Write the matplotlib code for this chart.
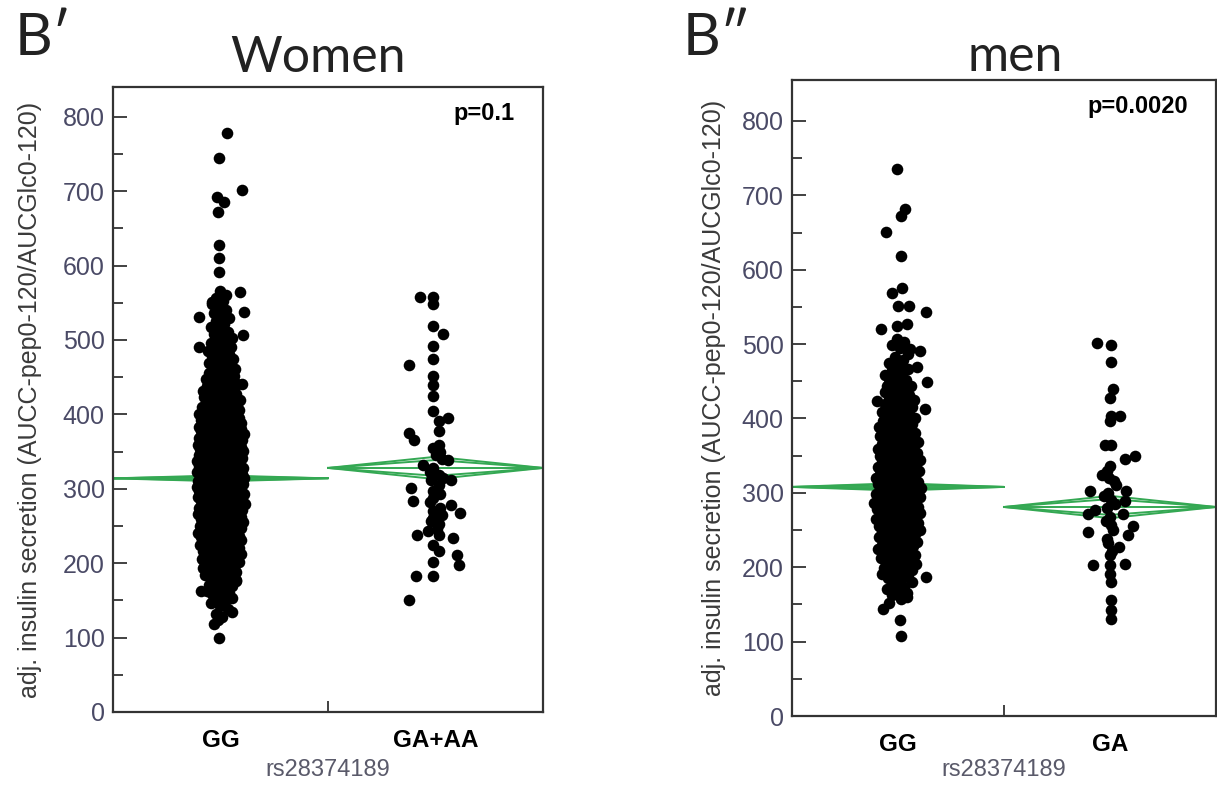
import numpy as np
import matplotlib.pyplot as plt

plt.rcParams['font.family'] = ['Liberation Sans', 'DejaVu Sans']

# --- women, GG: dense column + readable stragglers ---
women_gg_core = [
    118, 128, 132, 139, 143, 146, 149,
    151, 153, 156, 158, 160, 162, 163, 165, 167, 169,
    170, 171, 173, 174, 176, 177, 179, 180, 182, 184, 185, 186, 188, 189,
    190, 191, 191, 193, 194, 194, 195, 197, 198, 199, 200, 201, 202, 202, 204, 205, 206, 207, 208, 209,
    210, 211, 211, 212, 213, 214, 215, 215, 216, 217, 218, 219, 220, 221, 221, 222, 223, 224, 225, 226,
    227, 227, 228, 229,
    230, 231, 231, 232, 233, 234, 235, 235, 236, 237, 238, 239, 239, 240, 241, 242, 243, 243, 244, 245,
    246, 247, 247, 248, 249, 249,
    250, 250, 251, 252, 253, 253, 254, 255, 256, 256, 257, 258, 259, 259, 260, 261, 262, 262, 263, 264,
    265, 265, 266, 267, 268, 268, 269, 269,
    270, 270, 271, 272, 272, 273, 274, 274, 275, 276, 277, 277, 278, 279, 279, 280, 281, 281, 282, 283,
    284, 284, 285, 286, 286, 287, 288, 288, 289, 289,
    290, 290, 291, 291, 292, 293, 293, 294, 295, 295, 296, 297, 297, 298, 299, 299, 300, 300, 301, 302,
    302, 303, 304, 304, 305, 306, 306, 307, 308, 308, 309, 309,
    310, 310, 311, 312, 312, 313, 314, 314, 315, 316, 316, 317, 318, 318, 319, 319, 320, 321, 321, 322,
    323, 323, 324, 325, 325, 326, 327, 327, 328, 328, 329, 329,
    330, 331, 331, 332, 333, 333, 334, 335, 335, 336, 337, 337, 338, 339, 339, 340, 341, 341, 342, 343,
    343, 344, 345, 345, 346, 347, 347, 348, 349, 349,
    350, 351, 351, 352, 353, 353, 354, 355, 355, 356, 357, 357, 358, 359, 359, 360, 361, 361, 362, 363,
    363, 364, 365, 365, 366, 367, 367, 368, 369, 369,
    370, 371, 371, 372, 373, 374, 374, 375, 376, 377, 377, 378, 379, 380, 380, 381, 382, 383, 383, 384,
    385, 386, 386, 387, 388, 388, 389, 389,
    390, 391, 392, 393, 393, 394, 395, 396, 397, 398, 399, 400, 400, 401, 402, 403, 404, 405, 405, 406,
    407, 408, 409, 409,
    410, 411, 412, 413, 414, 415, 416, 418, 419, 420, 421, 422, 423, 424, 425, 426, 427, 428, 428, 429,
    430, 431, 433, 434, 435, 436, 438, 439, 440, 441, 443, 444, 445, 446, 448, 449,
    451, 452, 454, 456, 457, 459, 461, 462, 464, 466, 467, 469,
    471, 473, 475, 477, 479, 481, 483, 485, 487, 489,
    491, 493, 496, 498, 501, 503, 506, 508,
    511, 515, 518, 522, 525, 529,
    532, 536, 540, 544, 548,
    552, 556, 561, 566,
]
women_gg_out = [778, 744, 701, 692, 685, 672, 627, 610, 591, 565, 551, 538, 531, 506, 490, 441,
                178, 163, 134, 123, 99]
women_gg_out_dx = [0.03, -0.005, 0.10, -0.015, 0.015, -0.01, -0.005, -0.005, -0.005, 0.09, -0.04,
                   0.11, -0.10, 0.105, -0.10, 0.10, 0.07, -0.09, 0.055, -0.01, -0.005]

# --- women, GA+AA ---
women_ga = [558, 558, 548, 519, 508, 492, 475, 466, 451, 439, 425, 405, 395, 391, 377, 375, 365,
            359, 355, 350, 345, 340, 338, 332, 328, 322, 318, 315, 312, 312, 305, 301, 297, 293,
            288, 284, 282, 278, 274, 270, 268, 265, 261, 257, 252, 246, 243, 238, 238, 234, 225,
            217, 211, 201, 198, 183, 183, 151]
women_ga_dx = [-0.07, -0.01, -0.014, -0.01, 0.033, -0.01, -0.01, -0.125, -0.01, -0.01, -0.01, -0.01,
               0.06, 0.014, 0.014, -0.125, -0.10, 0.014, -0.01, 0.023, 0.0, 0.028, 0.06, -0.056,
               -0.01, -0.028, 0.014, 0.037, 0.07, -0.023, 0.014, -0.116, -0.01, 0.019, -0.01, -0.107,
               -0.028, 0.07, 0.023, -0.01, 0.116, 0.028, -0.01, -0.023, 0.014, 0.005, -0.033, -0.084,
               0.014, 0.079, -0.01, 0.014, 0.10, -0.01, 0.107, -0.093, -0.01, -0.125]

# --- men, GG ---
men_gg_core = [
    152, 157, 163, 166, 169,
    171, 174, 177, 180, 182, 185, 187, 189,
    191, 192, 194, 196, 198, 199, 201, 203, 204, 206, 208, 209,
    210, 212, 213, 215, 216, 218, 219, 221, 222, 224, 225, 227, 228, 229,
    230, 232, 233, 234, 236, 237, 239, 240, 241, 243, 244, 245, 246, 248, 249, 249,
    250, 251, 252, 254, 255, 256, 257, 258, 259, 261, 262, 263, 264, 265, 266, 267, 268, 269,
    270, 271, 271, 273, 274, 275, 276, 276, 278, 279, 280, 281, 282, 283, 283, 285, 286, 287, 288, 289,
    290, 291, 292, 292, 294, 295, 296, 297, 297, 299, 300, 301, 302, 302, 304, 305, 306, 307, 308, 309,
    310, 311, 312, 313, 314, 315, 316, 317, 318, 319, 320, 321, 322, 323, 325, 326, 327, 328, 329,
    330, 331, 332, 334, 335, 336, 337, 338, 339, 341, 342, 343, 344, 345, 346, 347, 348, 349,
    350, 352, 353, 354, 356, 357, 358, 359, 361, 362, 363, 364, 366, 367, 368, 369,
    370, 372, 373, 375, 376, 378, 379, 381, 382, 384, 385, 386, 388, 389,
    391, 392, 394, 396, 397, 399, 401, 402, 404, 406, 407, 409,
    411, 413, 415, 417, 419, 421, 423, 425, 427, 429,
    431, 434, 436, 439, 441, 444, 446, 448,
    452, 455, 458, 461, 464, 467,
    471, 475, 479, 483, 487,
    495, 499, 503, 507,
]
men_gg_out = [735, 681, 672, 651, 619, 576, 569, 551, 551, 543, 527, 524, 520, 493, 491, 469, 469,
              449, 443, 423, 413, 187, 160, 144, 129, 107]
men_gg_out_dx = [-0.005, 0.035, 0.015, -0.055, 0.015, 0.02, -0.03, 0.0, 0.05, 0.13, 0.04, -0.005,
                 -0.08, 0.055, 0.105, -0.03, 0.09, 0.135, -0.05, -0.10, 0.125, 0.13, 0.04, -0.07,
                 0.01, 0.015]

# --- men, GA ---
men_ga = [501, 499, 476, 440, 428, 404, 404, 397, 365, 364, 349, 345, 336, 330, 324, 320, 316, 311,
          303, 303, 300, 296, 291, 289, 285, 280, 277, 271, 271, 267, 262, 257, 256, 250, 247, 243,
          238, 233, 227, 222, 217, 204, 203, 203, 191, 180, 156, 143, 131]
men_ga_dx = [-0.06, 0.005, 0.005, 0.015, 0.0, 0.045, 0.005, 0.0, 0.005, -0.025, 0.12, 0.07, 0.0,
             -0.015, -0.04, -0.005, 0.02, 0.03, -0.095, 0.075, -0.01, -0.03, 0.005, 0.07, 0.025,
             -0.015, -0.07, -0.105, 0.06, 0.0, -0.02, 0.005, 0.11, 0.015, -0.105, 0.085, -0.015,
             -0.01, 0.04, 0.01, 0.0, 0.07, -0.08, 0.0, 0.0, 0.005, 0.005, 0.005, 0.005]

# group means and 95% CI half-widths (means diamonds)
women_means = [314, 328]
women_ci = [4, 15]
men_means = [308, 281]
men_ci = [5, 15]

women_cats = ['GG', 'GA+AA']
men_cats = ['GG', 'GA']
ylab = 'adj. insulin secretion (AUCC-pep0-120/AUCGlc0-120)'

green = '#34a853'
axis_col = '#333333'


def spread(vals, half):
    # density-scaled jitter: wide where points pile up, narrow in the tails
    v = np.asarray(vals, float)
    near = np.array([(np.abs(v - y) <= 15).sum() for y in v])
    w = half * np.sqrt(near / near.max())
    u = (np.arange(len(v)) * 0.6180339887) % 1.0 * 2 - 1
    return w * u


def draw_panel(ax, groups, means, cis, cats, ymax, ptext, ylab_x, xlab_y):
    for i, (core, out, out_dx) in enumerate(groups):
        if core:
            ax.scatter(i + spread(core, 0.115), core, s=70, c='black', lw=0, zorder=3)
        ax.scatter(i + np.array(out_dx), out, s=70, c='black', lw=0, zorder=3)

    for i, (m, c) in enumerate(zip(means, cis)):
        for h in (c, c / np.sqrt(2)):
            ax.plot([i - 0.5, i, i + 0.5, i, i - 0.5], [m, m + h, m, m - h, m],
                    color=green, lw=1.4, zorder=2, clip_on=False)
        ax.plot([i - 0.5, i + 0.5], [m, m], color=green, lw=1.4, zorder=2)

    ax.set_xlim(-0.5, 1.5)
    ax.set_ylim(0, ymax)
    ax.set_yticks(np.arange(0, 801, 100))
    ax.set_yticks(np.arange(50, 800, 100), minor=True)
    ax.tick_params(axis='y', which='major', direction='in', length=10, width=1.3,
                   color=axis_col, labelcolor='#4a4a66', labelsize=18, pad=6)
    ax.tick_params(axis='y', which='minor', direction='in', length=7, width=1.3, color=axis_col)

    ax.set_xticks([0, 1])
    ax.set_xticklabels(cats, fontweight='bold', fontsize=17.5)
    ax.set_xticks([0.5], minor=True)
    ax.tick_params(axis='x', which='major', length=0, pad=12)
    ax.tick_params(axis='x', which='minor', direction='in', length=8, width=1.3, color=axis_col)

    for sp in ax.spines.values():
        sp.set_color(axis_col)
        sp.set_linewidth(1.6)

    ax.set_ylabel(ylab, fontsize=18, color='#3a3a3a')
    ax.yaxis.set_label_coords(ylab_x, 0.5)
    ax.set_xlabel('rs28374189', fontsize=17, color='#5a5a6a', va='center')
    ax.xaxis.set_label_coords(0.5, xlab_y)

    ax.text(0.935, 0.958, ptext, transform=ax.transAxes, ha='right', va='center',
            fontsize=17, fontweight='bold')


fig = plt.figure(figsize=(12.17, 7.87), dpi=100)
ax1 = fig.add_axes([0.0929, 0.0953, 0.3533, 0.7942])
ax2 = fig.add_axes([0.6508, 0.0902, 0.3484, 0.8081])

draw_panel(ax1,
           [(women_gg_core, women_gg_out, women_gg_out_dx), ([], women_ga, women_ga_dx)],
           women_means, women_ci, women_cats, 840, 'p=0.1', -0.165, -0.093)
draw_panel(ax2,
           [(men_gg_core, men_gg_out, men_gg_out_dx), ([], men_ga, men_ga_dx)],
           men_means, men_ci, men_cats, 855, 'p=0.0020', -0.155, -0.085)

title_font = ['Lato', 'DejaVu Sans']
fig.text(0.012, 0.985, 'B\u2032', fontsize=42, family=title_font, color='#222222', va='top')
fig.text(0.561, 0.985, 'B\u2033', fontsize=42, family=title_font, color='#222222', va='top')
fig.text(0.261, 0.908, 'Women', fontsize=36, family=title_font, color='#222222',
         ha='center', va='baseline')
fig.text(0.834, 0.910, 'men', fontsize=36, family=title_font, color='#222222',
         ha='center', va='baseline')

fig.savefig('out.png', dpi=100)
